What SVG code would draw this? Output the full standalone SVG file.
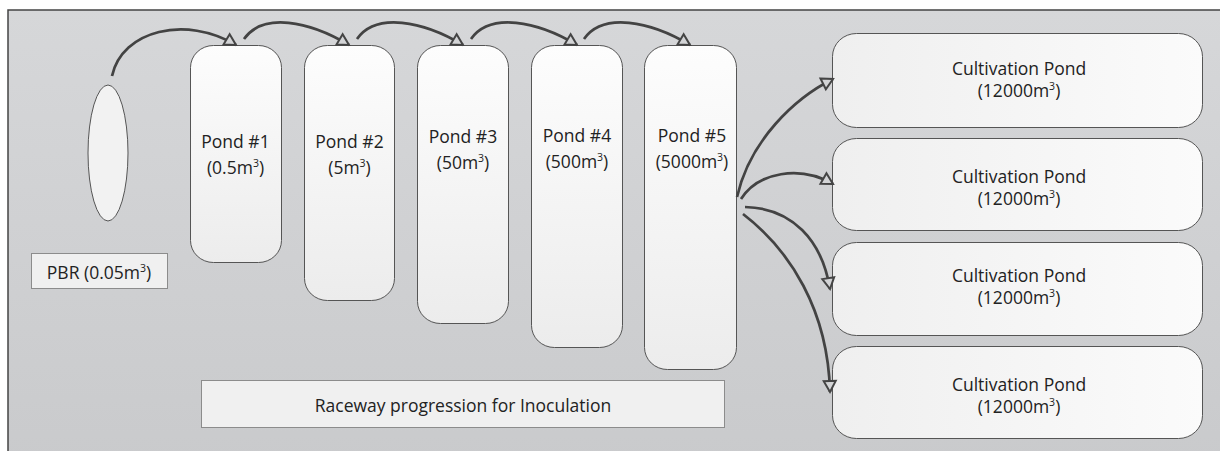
<svg xmlns="http://www.w3.org/2000/svg" width="1220" height="451" viewBox="0 0 1220 451">
<defs>
<linearGradient id="bg" x1="0" y1="0" x2="0" y2="1"><stop offset="0" stop-color="#d6d7d9"/><stop offset="1" stop-color="#c9cacc"/></linearGradient>
<linearGradient id="pondg" x1="0" y1="0" x2="0" y2="1"><stop offset="0" stop-color="#fdfdfd"/><stop offset="1" stop-color="#ececec"/></linearGradient>
<linearGradient id="cultg" x1="0" y1="0" x2="1" y2="0"><stop offset="0" stop-color="#efefef"/><stop offset="1" stop-color="#fbfbfb"/></linearGradient>
<marker id="ah" markerUnits="userSpaceOnUse" markerWidth="16" markerHeight="16" refX="11" refY="6" orient="auto" overflow="visible">
<path d="M0,0 L11,6 L0,12 Z" fill="#d3d4d6" stroke="#444" stroke-width="2" stroke-linejoin="miter"/>
</marker>
<style>
.pond{fill:url(#pondg);stroke:#555;stroke-width:1}
.cult{fill:url(#cultg);stroke:#555;stroke-width:1}
.lbl{fill:#f0f0f0;stroke:#8c8c8c;stroke-width:1}
.t{font-family:"Open Sans","Noto Sans",sans-serif;font-size:17.5px;fill:#222;text-anchor:middle}
.sup{font-size:10.5px}
.conn{fill:none;stroke:#434343;stroke-width:2.7;marker-end:url(#ah)}
</style>
</defs>
<rect x="0" y="0" width="1220" height="451" fill="#ffffff"/>
<rect id="background" x="8" y="10" width="1230" height="460" fill="url(#bg)" stroke="#444" stroke-width="1.5"/>

<g id="pbr">
<ellipse cx="108" cy="153" rx="20" ry="68" fill="#f2f2f2" stroke="#555" stroke-width="1"/>
</g>
<g id="pbr-label">
<rect class="lbl" x="31.5" y="253.5" width="136" height="35"/>
<text class="t" x="99" y="279">PBR (0.05m<tspan class="sup" dy="-7">3</tspan><tspan dy="7">)</tspan></text>
</g>

<g id="pond1">
<rect class="pond" x="190.5" y="45.5" width="91" height="217" rx="23" ry="22"/>
<text class="t" x="235.5" y="148">Pond #1</text>
<text class="t" x="235.5" y="174">(0.5m<tspan class="sup" dy="-7">3</tspan><tspan dy="7">)</tspan></text>
</g>
<g id="pond2">
<rect class="pond" x="304.5" y="45.5" width="90" height="255" rx="23" ry="22"/>
<text class="t" x="349.5" y="148">Pond #2</text>
<text class="t" x="349.5" y="174">(5m<tspan class="sup" dy="-7">3</tspan><tspan dy="7">)</tspan></text>
</g>
<g id="pond3">
<rect class="pond" x="417.5" y="45.5" width="91" height="278" rx="23" ry="22"/>
<text class="t" x="463" y="143">Pond #3</text>
<text class="t" x="463" y="169">(50m<tspan class="sup" dy="-7">3</tspan><tspan dy="7">)</tspan></text>
</g>
<g id="pond4">
<rect class="pond" x="531.5" y="45.5" width="91" height="302" rx="23" ry="22"/>
<text class="t" x="577" y="142">Pond #4</text>
<text class="t" x="577" y="168">(500m<tspan class="sup" dy="-7">3</tspan><tspan dy="7">)</tspan></text>
</g>
<g id="pond5">
<rect class="pond" x="644.5" y="45.5" width="92" height="324" rx="23" ry="22"/>
<text class="t" x="692" y="142">Pond #5</text>
<text class="t" x="692" y="168">(5000m<tspan class="sup" dy="-7">3</tspan><tspan dy="7">)</tspan></text>
</g>

<g id="raceway-label">
<rect class="lbl" x="201.5" y="380.5" width="523" height="47"/>
<text class="t" x="463" y="412">Raceway progression for Inoculation</text>
</g>

<g id="cult1">
<rect class="cult" x="832.5" y="33.5" width="370" height="94" rx="24" ry="23"/>
<text class="t" x="1019" y="75">Cultivation Pond</text>
<text class="t" x="1019" y="97">(12000m<tspan class="sup" dy="-7">3</tspan><tspan dy="7">)</tspan></text>
</g>
<g id="cult2">
<rect class="cult" x="832.5" y="138.5" width="370" height="92" rx="24" ry="23"/>
<text class="t" x="1019" y="183">Cultivation Pond</text>
<text class="t" x="1019" y="205">(12000m<tspan class="sup" dy="-7">3</tspan><tspan dy="7">)</tspan></text>
</g>
<g id="cult3">
<rect class="cult" x="832.5" y="242.5" width="370" height="93" rx="24" ry="23"/>
<text class="t" x="1019" y="282">Cultivation Pond</text>
<text class="t" x="1019" y="304">(12000m<tspan class="sup" dy="-7">3</tspan><tspan dy="7">)</tspan></text>
</g>
<g id="cult4">
<rect class="cult" x="832.5" y="346.5" width="370" height="92" rx="24" ry="23"/>
<text class="t" x="1019" y="391">Cultivation Pond</text>
<text class="t" x="1019" y="413">(12000m<tspan class="sup" dy="-7">3</tspan><tspan dy="7">)</tspan></text>
</g>

<g id="connectors">
<path class="conn" d="M112,76 C122,30 186,15 236,45"/>
<path class="conn" d="M244,39 C263,12 309,21 349,45"/>
<path class="conn" d="M357,39 C376,12 423,21 463,45"/>
<path class="conn" d="M471,39 C490,12 537,21 577,45"/>
<path class="conn" d="M584,39 C603,12 650,21 690,45"/>
<path class="conn" d="M737,197 C750,140 795,98 833,79"/>
<path class="conn" d="M741,199 C758,172 800,165 833,184"/>
<path class="conn" d="M745,207 C792,208 822,240 830,289"/>
<path class="conn" d="M743,214 C790,250 828,310 830,392"/>
</g>
</svg>
